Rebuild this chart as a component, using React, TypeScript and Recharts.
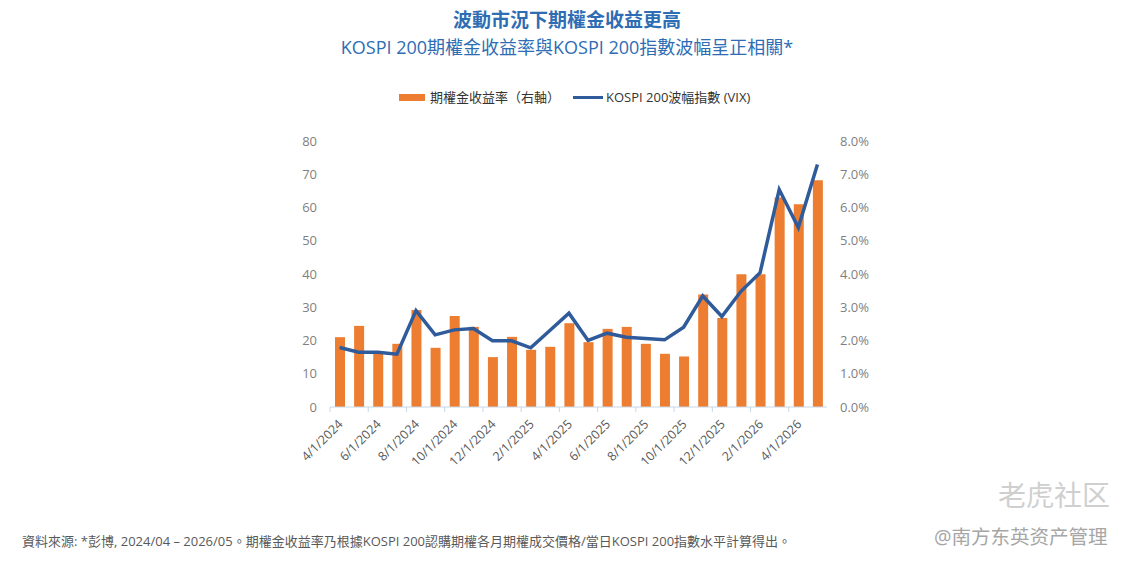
import { Bar, ComposedChart, Line, XAxis, YAxis } from "recharts"

// month labels, 4/2024 .. 5/2026
const months = [
  "4/1/2024", "5/1/2024", "6/1/2024", "7/1/2024", "8/1/2024", "9/1/2024",
  "10/1/2024", "11/1/2024", "12/1/2024", "1/1/2025", "2/1/2025", "3/1/2025",
  "4/1/2025", "5/1/2025", "6/1/2025", "7/1/2025", "8/1/2025", "9/1/2025",
  "10/1/2025", "11/1/2025", "12/1/2025", "1/1/2026", "2/1/2026", "3/1/2026",
  "4/1/2026", "5/1/2026",
]

// option premium yield, % (right axis)
const premiumYield = [
  2.1, 2.44, 1.65, 1.9, 2.92, 1.78, 2.74, 2.41, 1.5, 2.11, 1.72, 1.81,
  2.52, 1.95, 2.35, 2.41, 1.9, 1.6, 1.52, 3.38, 2.68, 3.99, 3.99, 6.3,
  6.1, 6.82,
]

// KOSPI 200 volatility index (left axis)
const vix = [
  17.9, 16.5, 16.5, 15.9, 29.0, 21.7, 23.2, 23.6, 19.9, 19.9, 17.8, 23.0,
  28.2, 20.0, 22.2, 21.0, 20.6, 20.2, 24.0, 33.4, 27.2, 34.8, 40.4, 65.4,
  54.0, 72.9,
]

const leftTicks = [0, 10, 20, 30, 40, 50, 60, 70, 80]
const rightTicks = [0, 1, 2, 3, 4, 5, 6, 7, 8]

const data = months.map((m, i) => ({ month: m, premium: premiumYield[i], vix: vix[i] }))

const ORANGE = "#ED7D31"
const BLUE = "#2F5B9A"
const AXIS = "#C6D6E8"
const FONT = "'Open Sans', 'Noto Sans CJK TC', sans-serif"

const PLOT_LEFT = 330
const PLOT_RIGHT = 827
const BAND = (PLOT_RIGHT - PLOT_LEFT) / months.length

function MonthTick(props: any) {
  const { x, y, payload, index } = props
  const axisY = y - 8
  const last = index === months.length - 2
  const tx = x + 4
  const ty = axisY + 18
  return (
    <g>
      <line x1={x - BAND / 2} x2={x - BAND / 2} y1={axisY} y2={axisY + 5} stroke={AXIS} />
      {last && (
        <line x1={x + BAND * 1.5} x2={x + BAND * 1.5} y1={axisY} y2={axisY + 5} stroke={AXIS} />
      )}
      <text
        x={tx}
        y={ty}
        transform={`rotate(-45 ${tx} ${ty})`}
        textAnchor="end"
        fontSize={12.5}
        fill="#595959"
        fontFamily={FONT}
      >
        {payload.value}
      </text>
    </g>
  )
}

export default function App() {
  return (
    <div
      style={{
        position: "absolute",
        left: 0,
        top: 0,
        width: 1134,
        height: 562,
        background: "#fff",
        fontFamily: FONT,
        overflow: "hidden",
      }}
    >
      <div
        style={{
          position: "absolute",
          top: 8,
          width: "100%",
          textAlign: "center",
          color: "#2E6DB4",
          fontSize: 19,
          fontWeight: 700,
          lineHeight: "24px",
        }}
      >
        波動市況下期權金收益更高
      </div>
      <div
        style={{
          position: "absolute",
          top: 35,
          width: "100%",
          textAlign: "center",
          color: "#2E6DB4",
          fontSize: 18,
          lineHeight: "24px",
        }}
      >
        KOSPI 200期權金收益率與KOSPI 200指數波幅呈正相關*
      </div>

      <div
        style={{
          position: "absolute",
          top: 88,
          left: 399,
          display: "flex",
          alignItems: "center",
          fontSize: 13,
          color: "#333",
          lineHeight: "18px",
        }}
      >
        <span style={{ width: 26, height: 7, background: ORANGE, marginRight: 5 }} />
        <span style={{ marginRight: 13 }}>期權金收益率（右軸）</span>
        <span style={{ width: 30, height: 3, background: BLUE, marginRight: 3 }} />
        <span>KOSPI 200波幅指數 (VIX)</span>
      </div>

      <div style={{ position: "absolute", left: 0, top: 0 }}>
        <ComposedChart
          width={1134}
          height={480}
          data={data}
          barSize={10}
          margin={{ top: 141, right: 1134 - PLOT_RIGHT - 40, bottom: 13, left: PLOT_LEFT - 40 }}
        >
          <XAxis
            dataKey="month"
            interval={1}
            height={60}
            tickLine={false}
            axisLine={{ stroke: AXIS }}
            tick={<MonthTick />}
          />
          <YAxis
            yAxisId="left"
            width={40}
            domain={[0, 80]}
            ticks={leftTicks}
            axisLine={false}
            tickLine={false}
            tickMargin={7}
            tick={{ fontSize: 13, fill: "#7F7F7F", fontFamily: FONT }}
          />
          <YAxis
            yAxisId="right"
            orientation="right"
            width={40}
            domain={[0, 8]}
            ticks={rightTicks}
            axisLine={false}
            tickLine={false}
            tickMargin={7}
            tickFormatter={(v) => `${v.toFixed(1)}%`}
            tick={{ fontSize: 13, fill: "#7F7F7F", fontFamily: FONT }}
          />
          <Bar yAxisId="right" dataKey="premium" fill={ORANGE} isAnimationActive={false} />
          <Line
            yAxisId="left"
            dataKey="vix"
            type="linear"
            stroke={BLUE}
            strokeWidth={3.5}
            dot={false}
            activeDot={false}
            isAnimationActive={false}
          />
        </ComposedChart>
      </div>

      <div
        style={{
          position: "absolute",
          left: 22,
          top: 532,
          fontSize: 13,
          color: "#595959",
          lineHeight: "18px",
          whiteSpace: "nowrap",
        }}
      >
        資料來源: *彭博, 2024/04 – 2026/05。期權金收益率乃根據KOSPI 200認購期權各月期權成交價格/當日KOSPI 200指數水平計算得出。
      </div>
      <div
        style={{
          position: "absolute",
          left: 998,
          top: 479,
          fontSize: 28,
          color: "#CFCFCF",
          lineHeight: "32px",
          whiteSpace: "nowrap",
        }}
      >
        老虎社区
      </div>
      <div
        style={{
          position: "absolute",
          left: 934,
          top: 525,
          fontSize: 19.5,
          color: "#A6A6A6",
          lineHeight: "24px",
          whiteSpace: "nowrap",
        }}
      >
        @南方东英资产管理
      </div>
    </div>
  )
}
